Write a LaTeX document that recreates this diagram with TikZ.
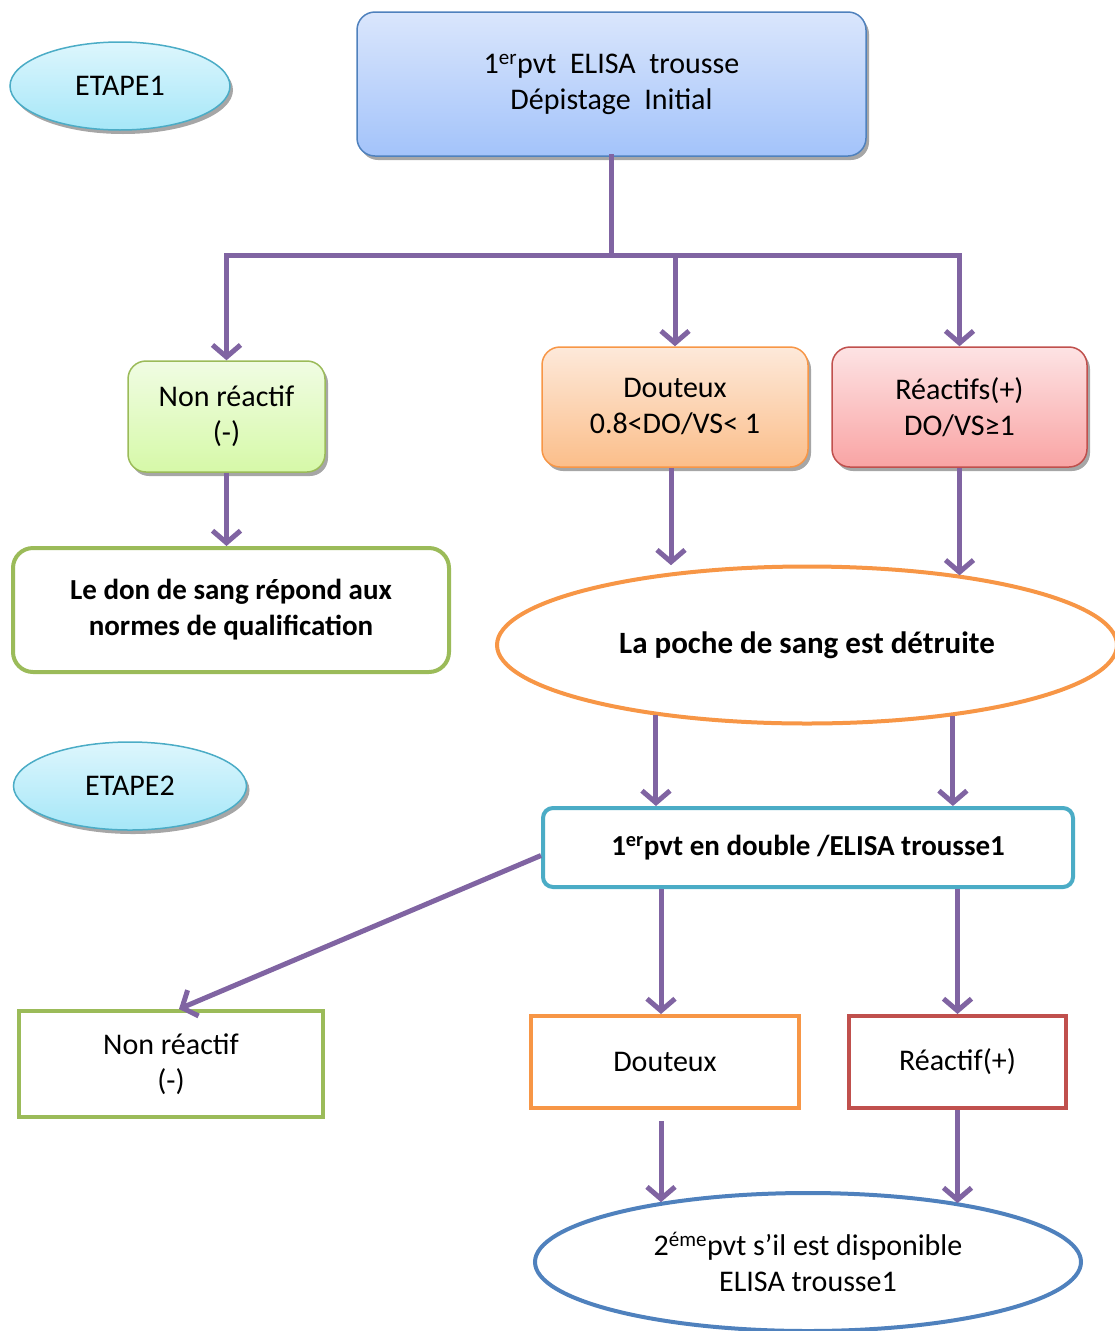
\documentclass[tikz,border=0pt]{standalone}
\usepackage{fontspec}
\setmainfont{Carlito}
\usepackage{tikz}
\usetikzlibrary{arrows.meta,shapes.geometric,shadows}

\definecolor{flowpurple}{HTML}{8064A2}
\definecolor{tagcyan}{HTML}{4BACC6}
\definecolor{topblue}{HTML}{4F81BD}
\definecolor{okgreen}{HTML}{9BBB59}
\definecolor{doubtorange}{HTML}{F79646}
\definecolor{posred}{HTML}{C0504D}
% gradient ends
\definecolor{cyanhi}{HTML}{DDF6FD}\definecolor{cyanlo}{HTML}{A6E7F8}
\definecolor{bluehi}{HTML}{DAE6FC}\definecolor{bluelo}{HTML}{A3C3FA}
\definecolor{greenhi}{HTML}{F0FCE3}\definecolor{greenlo}{HTML}{D6F9A8}
\definecolor{orangehi}{HTML}{FDE9DA}\definecolor{orangelo}{HTML}{FBBE8A}
\definecolor{redhi}{HTML}{FDE3E4}\definecolor{redlo}{HTML}{F9A4A4}

\begin{document}
\begin{tikzpicture}[x=1pt,y=-1pt,
    every node/.style={font=\fontsize{30}{36}\selectfont, align=center, inner sep=0pt},
    flow/.style={draw=flowpurple, line width=5pt, -{Straight Barb[length=12pt,width=28pt,line width=5pt]}},
    link/.style={draw=flowpurple, line width=5pt, line cap=rect},
    softshadow/.style={drop shadow={shadow xshift=3pt, shadow yshift=-4pt, fill=black!35, opacity=1}},
    tag/.style={ellipse, draw=tagcyan, line width=1.5pt, top color=cyanhi, bottom color=cyanlo, softshadow},
    stepbox/.style={rectangle, rounded corners=18pt, line width=1.5pt, softshadow},
    frame/.style={rectangle, line width=4pt, fill=white},
    oval/.style={ellipse, line width=4pt, fill=white}]

    \useasboundingbox (0,0) rectangle (1115,1331);

    % etape 1
    \node[tag, minimum width=220pt, minimum height=88pt] (tag1) at (120,86) {ETAPE1};
    \node[stepbox, draw=topblue, top color=bluehi, bottom color=bluelo,
          minimum width=509pt, minimum height=144pt] (first) at (611.5,84)
          {1\textsuperscript{er}pvt\ \ ELISA\ \ trousse\\Dépistage\ \ Initial};

    \node[stepbox, draw=okgreen, top color=greenhi, bottom color=greenlo,
          minimum width=197pt, minimum height=111pt] (neg1) at (226.5,416.5) {Non réactif\\(-)};
    \node[stepbox, draw=doubtorange, top color=orangehi, bottom color=orangelo,
          minimum width=266pt, minimum height=120pt] (doubt1) at (675,407) {Douteux\\0.8<DO/VS< 1};
    \node[stepbox, draw=posred, top color=redhi, bottom color=redlo,
          minimum width=255pt, minimum height=120pt] (pos1) at (959.5,407) {Réactifs(+)\\DO/VS≥1};

    \node[frame, draw=okgreen, rounded corners=20pt, minimum width=436pt, minimum height=124pt,
          font=\fontsize{29}{36}\selectfont\bfseries] (accept) at (231,610)
          {Le don de sang répond aux\\normes de qualification};
    \node[oval, draw=doubtorange, minimum width=620pt, minimum height=157pt,
          font=\fontsize{31}{36}\selectfont\bfseries] (destroy) at (807,645) {La poche de sang est détruite};

    % etape 2
    \node[tag, minimum width=233pt, minimum height=88pt] (tag2) at (130,786) {ETAPE2};
    \node[frame, draw=tagcyan, rounded corners=10pt, minimum width=530pt, minimum height=79pt,
          font=\fontsize{29}{36}\selectfont\bfseries] (retest) at (808,847.5)
          {1\textsuperscript{er}pvt en double /ELISA trousse1};

    \node[frame, draw=okgreen, minimum width=304pt, minimum height=106pt] (neg2) at (171,1064) {Non réactif\\(-)};
    \node[frame, draw=doubtorange, minimum width=268pt, minimum height=92pt] (doubt2) at (665,1062) {Douteux};
    \node[frame, draw=posred, minimum width=217pt, minimum height=92pt] (pos2) at (957.5,1062) {Réactif(+)};

    \node[oval, draw=topblue, minimum width=546pt, minimum height=138pt] (second) at (808,1262)
          {2\textsuperscript{éme}pvt s’il est disponible\\ELISA trousse1};

    % connectors
    \coordinate (split) at (first.south |- 0,255);
    \draw[link] (first.south) -- (split);
    \draw[link] (neg1.north |- split) -- (pos1.north |- split);
    \draw[flow] (neg1.north |- split) -- (neg1.north);
    \draw[flow] (doubt1.north |- split) -- (doubt1.north);
    \draw[flow] (pos1.north |- split) -- (pos1.north);

    \draw[flow] (neg1.south) -- (neg1.south |- accept.north);
    \draw[flow] ([xshift=-4pt]doubt1.south) -- ([xshift=-4pt]doubt1.south |- destroy.117);
    \draw[flow] (pos1.south) -- (pos1.south |- destroy.24);

    \draw[flow] (destroy.205) -- (destroy.205 |- retest.north);
    \draw[flow] (destroy.334) -- (destroy.334 |- retest.north);

    \draw[flow] ([yshift=-8pt]retest.west) -- ([xshift=8pt]neg2.north);
    \draw[flow] ([xshift=-4pt]doubt2.north |- retest.south) -- ([xshift=-4pt]doubt2.north);
    \draw[flow] (pos2.north |- retest.south) -- (pos2.north);

    \draw[flow] ([xshift=-4pt,yshift=-11pt]doubt2.south) -- ([xshift=-4pt]doubt2.south |- second.158);
    \draw[flow] (pos2.south) -- (pos2.south |- second.21);

\end{tikzpicture}
\end{document}
